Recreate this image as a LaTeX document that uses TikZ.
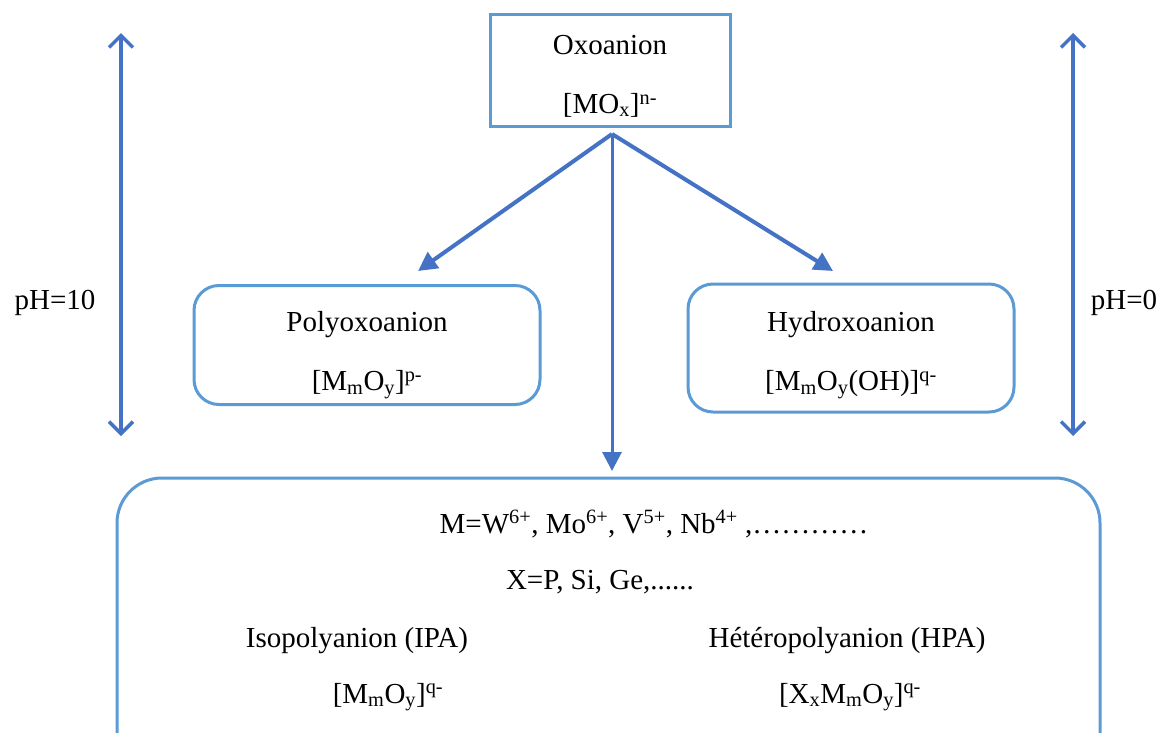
\documentclass[tikz,border=0pt]{standalone}
\usepackage{fontspec}
\setmainfont{Liberation Serif}
\usetikzlibrary{arrows.meta}
\definecolor{arrowblue}{HTML}{4472C4}
\definecolor{boxblue}{HTML}{5B9BD5}
\newcommand\sbs[1]{\textsubscript{#1}}
\newcommand\sps[1]{\textsuperscript{#1}}
\tikzset{
  sqbox/.style={draw=boxblue, line width=3pt, inner sep=0pt},
  rbox/.style={sqbox, rounded corners=25pt},
  boxtext/.style={align=center, inner sep=0pt, font=\fontsize{29}{59}\selectfont},
  flow/.style={draw=arrowblue, line width=4pt, -{Triangle[length=19pt,width=19pt]}},
  dbl/.style={draw=arrowblue, line width=3.5pt,
    {Straight Barb[length=12pt,width=24pt,line width=3.5pt]}-{Straight Barb[length=12pt,width=24pt,line width=3.5pt]}},
  lbl/.style={inner sep=0pt, font=\fontsize{29}{35}\selectfont}
}
\begin{document}
\begin{tikzpicture}[x=1pt, y=-1pt]
\useasboundingbox (0,0) rectangle (1168,732);
\clip (0,0) rectangle (1168,732);
\fill[white] (0,0) rectangle (1168,732);

% boxes
\node[sqbox, minimum width=240pt, minimum height=112pt] (oxo) at (610,70) {};
\node[boxtext] (oxoT) at (610,76) {Oxoanion\\{}[MO\sbs{x}]\sps{n-}};
\node[rbox, minimum width=346pt, minimum height=119pt] (poly) at (367,345) {};
\node[boxtext] (polyT) at (367,355) {Polyoxoanion\\{}[M\sbs{m}O\sbs{y}]\sps{p-}};
\node[rbox, minimum width=326pt, minimum height=128pt] (hydro) at (851,348) {};
\node[boxtext] (hydroT) at (851,355) {Hydroxoanion\\{}[M\sbs{m}O\sbs{y}(OH)]\sps{q-}};
\node[rbox, rounded corners=45pt, minimum width=983pt, minimum height=330pt] (bot) at (608.5,643) {};

% texts in bottom box
\node[lbl] (mline) at (654,524) {M=W\sps{6+}, Mo\sps{6+}, V\sps{5+}, Nb\sps{4+} ,…………};
\node[lbl] (xline) at (600,582) {X=P, Si, Ge,......};
\node[lbl] (ipa) at (357,641) {Isopolyanion (IPA)};
\node[lbl] (hpa) at (847,641) {Hétéropolyanion (HPA)};
\node[lbl] (ipaf) at (388,697) {[M\sbs{m}O\sbs{y}]\sps{q-}};
\node[lbl] (hpaf) at (850,697) {[X\sbs{x}M\sbs{m}O\sbs{y}]\sps{q-}};

% pH labels
\node[lbl] (ph10) at (55,303) {pH=10};
\node[lbl] (ph0) at (1124,303) {pH=0};

% connectors
\coordinate (src) at (612,134);
\coordinate (pl) at (418,271);
\coordinate (pr) at (833,271);
\coordinate (pm) at (612,471);
\draw[flow] (src) -- (pl);
\draw[flow] (src) -- (pr);
\draw[flow, line width=3pt] (src) -- (pm);

\coordinate (lt) at (121,33);
\coordinate (lb) at (121,436);
\coordinate (rt) at (1073,33);
\coordinate (rb) at (1073,436);
\draw[dbl] (lt) -- (lb);
\draw[dbl] (rt) -- (rb);
\end{tikzpicture}
\end{document}
